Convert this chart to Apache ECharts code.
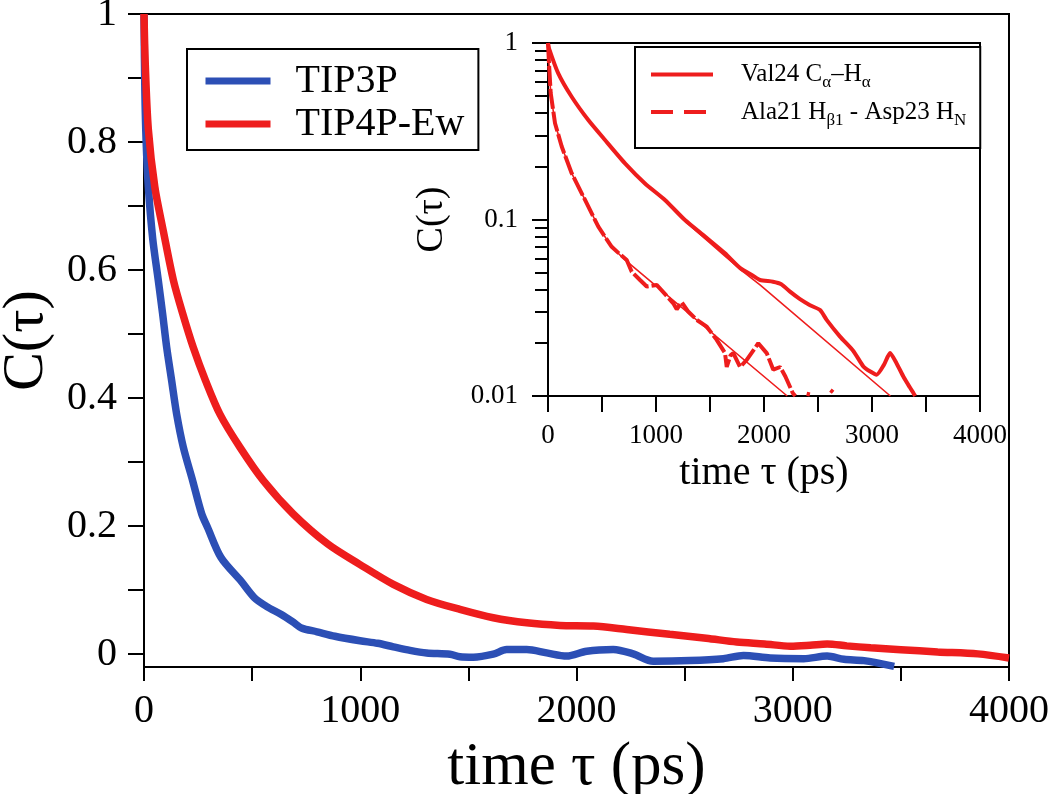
<!DOCTYPE html>
<html><head><meta charset="utf-8">
<script src="https://cdn.jsdelivr.net/npm/echarts@6/dist/echarts.min.js"></script>
<style>html,body{margin:0;padding:0;background:#fff}#c{width:1050px;height:794px}</style>
</head><body><div id="c"></div>
<script>
// ---- data (time in ps, C(tau)) ----
const tip3p = [[0,1.0],[4,0.88],[10,0.80],[20,0.73],[40,0.65],[66,0.584],[86,0.532],[105,0.479],[128,0.427],[151,0.375],[182,0.323],[225,0.271],[267,0.219],[294,0.198],[356,0.151],[449,0.114],[511,0.088],[570,0.074],[635,0.062],[690,0.050],[728,0.041],[800,0.035],[883,0.028],[999,0.021],[1080,0.017],[1153,0.0115],[1230,0.006],[1307,0.002],[1415,0.0],[1461,-0.004],[1523,-0.0047],[1615,0.0],[1677,0.0073],[1770,0.0073],[1862,0.002],[1955,-0.003],[2047,0.0047],[2170,0.0073],[2262,0.0005],[2355,-0.011],[2524,-0.01],[2679,-0.007],[2772,-0.002],[2896,-0.006],[3051,-0.007],[3159,-0.003],[3237,-0.008],[3329,-0.01],[3469,-0.019]];
const tip4pew = [[0,1.0],[6,0.92],[20,0.82],[50,0.73],[90,0.66],[136,0.584],[179,0.532],[228,0.479],[285,0.427],[351,0.375],[444,0.323],[552,0.271],[690,0.219],[850,0.172],[999,0.140],[1153,0.109],[1307,0.0856],[1461,0.070],[1615,0.057],[1770,0.049],[1924,0.045],[2078,0.044],[2232,0.0386],[2431,0.031],[2600,0.025],[2741,0.019],[2870,0.016],[2989,0.0125],[3080,0.014],[3159,0.016],[3250,0.013],[3360,0.01],[3500,0.007],[3670,0.0036],[3856,0.0005],[4000,-0.006]];
const val24 = [[0,1.0],[10,0.93],[95,0.673],[219,0.496],[373,0.366],[528,0.282],[713,0.208],[898,0.160],[1083,0.129],[1268,0.0993],[1454,0.080],[1639,0.0643],[1780,0.053],[1898,0.048],[1963,0.0454],[2083,0.0444],[2160,0.043],[2241,0.039],[2330,0.0355],[2426,0.0327],[2519,0.0307],[2580,0.027],[2704,0.0217],[2827,0.018],[2920,0.0147],[2980,0.0138],[3043,0.0132],[3110,0.015],[3167,0.0175],[3228,0.0153],[3290,0.0129],[3350,0.0112],[3383,0.0104],[3400,0.01]];
const val24Fit = [[0,1.0],[10,0.93],[95,0.673],[219,0.496],[373,0.366],[528,0.282],[713,0.208],[898,0.160],[1083,0.127],[1268,0.098],[1454,0.078],[1639,0.062],[1800,0.051],[1963,0.0426],[3170,0.01]];
const ala21 = [[0,1.0],[10,0.75],[25,0.52],[65,0.351],[127,0.259],[219,0.183],[343,0.129],[466,0.091],[590,0.070],[660,0.064],[729,0.059],[775,0.0506],[852,0.0454],[914,0.0417],[1006,0.0426],[1080,0.038],[1160,0.0335],[1192,0.031],[1238,0.034],[1300,0.030],[1377,0.027],[1470,0.0247],[1562,0.0208],[1639,0.0175],[1655,0.0146],[1690,0.017],[1716,0.0175],[1778,0.0146],[1840,0.016],[1947,0.0199],[2025,0.0175],[2086,0.0141],[2150,0.0146],[2198,0.0129],[2266,0.0104],[2290,0.01],[2340,'-'],[2395,0.0103],[2425,0.0102],[2500,'-'],[2615,0.0108],[2640,0.0105]];
const ala21Fit = [[0,1.0],[10,0.75],[25,0.52],[65,0.351],[127,0.259],[219,0.183],[343,0.129],[466,0.091],[590,0.070],[713,0.059],[2215,0.01]];
const mainXLabels = [0,1000,2000,3000,4000];
const mainYTicks = [0,0.1,0.2,0.3,0.4,0.5,0.6,0.7,0.8,0.9,1];
const mainYLabels = [0,0.2,0.4,0.6,0.8,1];
const insetXLabels = [0,1000,2000,3000,4000];
const insetYMinorTicks = [0.02,0.03,0.04,0.05,0.06,0.07,0.08,0.09,0.2,0.3,0.4,0.5,0.6,0.7,0.8,0.9];

const FF = '"Liberation Serif","DejaVu Serif",serif';
const BLUE = '#2c4fb5', RED = '#ee1d1d';
const axisLine = {show:true, onZero:false, lineStyle:{color:'#000', width:2}};
const tickStyle = {color:'#000', width:2};
const plain = v => String(v);

const chart = echarts.init(document.getElementById('c'));
chart.setOption({
  animation:false,
  backgroundColor:'#fff',
  grid:[
    {left:144, top:14, width:865, height:653, show:true, borderColor:'#000', borderWidth:2, outerBoundsMode:'none', containLabel:false},
    {left:548, top:43, width:432, height:353, show:true, borderColor:'#000', borderWidth:2, backgroundColor:'#fff', outerBoundsMode:'none', containLabel:false}
  ],
  xAxis:[
    {gridIndex:0, type:'value', min:0, max:4000, interval:500, axisLine,
     axisTick:{inside:false, length:14, lineStyle:tickStyle},
     axisLabel:{customValues:mainXLabels, formatter:plain, fontSize:40, fontFamily:FF, color:'#000', margin:24},
     splitLine:{show:false},
     name:'time τ (ps)', nameLocation:'middle', nameGap:70,
     nameTextStyle:{fontSize:61, fontFamily:FF, color:'#000'}},
    {gridIndex:1, type:'value', min:0, max:4000, interval:500, axisLine,
     axisTick:{length:16, lineStyle:tickStyle},
     axisLabel:{customValues:insetXLabels, formatter:plain, fontSize:27, fontFamily:FF, color:'#000', margin:26},
     splitLine:{show:false},
     name:'time τ (ps)', nameLocation:'middle', nameGap:57,
     nameTextStyle:{fontSize:40, fontFamily:FF, color:'#000'}}
  ],
  yAxis:[
    {gridIndex:0, type:'value', min:-0.02, max:1, axisLine,
     axisTick:{customValues:mainYTicks, length:16, lineStyle:tickStyle},
     axisLabel:{customValues:mainYLabels, formatter:plain, fontSize:40, fontFamily:FF, color:'#000', margin:27},
     splitLine:{show:false},
     name:'C(τ)', nameLocation:'middle', nameGap:84,
     nameTextStyle:{fontSize:58, fontFamily:FF, color:'#000'}},
    {gridIndex:1, type:'log', logBase:10, min:0.01, max:1, position:'left', axisLine,
     axisTick:{length:16, lineStyle:tickStyle},
     axisLabel:{formatter:plain, fontSize:27, fontFamily:FF, color:'#000', margin:30},
     splitLine:{show:false}, minorTick:{show:false},
     name:'C(τ)', nameLocation:'middle', nameGap:97,
     nameTextStyle:{fontSize:38, fontFamily:FF, color:'#000'}},
    {gridIndex:1, type:'log', logBase:10, min:0.01, max:1, position:'left',
     axisLine:{show:false, onZero:false},
     axisTick:{customValues:insetYMinorTicks, length:13, lineStyle:tickStyle},
     axisLabel:{show:false}, splitLine:{show:false}}
  ],
  legend:[
    {left:187, top:49, orient:'vertical', data:['TIP3P','TIP4P-Ew'],
     itemWidth:65, itemHeight:10, itemGap:3, padding:[12,14,6,15],
     borderColor:'#000', borderWidth:2, backgroundColor:'#fff',
     itemStyle:{opacity:0}, lineStyle:{width:7},
     textStyle:{fontSize:40, fontFamily:FF, color:'#000', lineHeight:40, padding:[0,0,0,20]}},
    {left:635, top:47, orient:'vertical',
     data:[{name:'Val24'}, {name:'Ala21', lineStyle:{type:[22,11], width:4}}],
     itemWidth:62, itemHeight:10, itemGap:8, padding:[15,14,19,14],
     borderColor:'#000', borderWidth:2, backgroundColor:'#fff',
     itemStyle:{opacity:0}, lineStyle:{width:4},
     formatter:function(n){
       return n === 'Val24' ? '{n|Val24 C}{s|α}{n|–H}{s|α}' : '{n|Ala21 H}{s|β1}{n| - Asp23 H}{s|N}';
     },
     textStyle:{fontSize:25, fontFamily:FF, color:'#000', padding:[0,0,0,23],
       rich:{
         n:{fontSize:25, fontFamily:FF, color:'#000', lineHeight:34, verticalAlign:'middle'},
         s:{fontSize:17, fontFamily:FF, color:'#000', lineHeight:16, verticalAlign:'bottom'}
       }}}
  ],
  series:[
    {name:'TIP3P', type:'line', xAxisIndex:0, yAxisIndex:0, data:tip3p, showSymbol:false, symbol:'none',
     smooth:0.3, lineStyle:{color:BLUE, width:7.5}, itemStyle:{color:BLUE}},
    {name:'TIP4P-Ew', type:'line', xAxisIndex:0, yAxisIndex:0, data:tip4pew, showSymbol:false, symbol:'none',
     smooth:0.3, lineStyle:{color:RED, width:7.5}, itemStyle:{color:RED}},
    {name:'Val24', type:'line', xAxisIndex:1, yAxisIndex:1, data:val24, symbol:'none',
     smooth:0.2, lineStyle:{color:RED, width:4}, itemStyle:{color:RED}, z:3},
    {name:'Val24 fit', type:'line', xAxisIndex:1, yAxisIndex:1, data:val24Fit, symbol:'none',
     smooth:false, lineStyle:{color:RED, width:1.6}, itemStyle:{color:RED}, z:4},
    {name:'Ala21', type:'line', xAxisIndex:1, yAxisIndex:1, data:ala21, symbol:'none',
     smooth:false, connectNulls:false, lineStyle:{color:RED, width:4, type:[20,3]}, itemStyle:{color:RED}, z:3},
    {name:'Ala21 fit', type:'line', xAxisIndex:1, yAxisIndex:1, data:ala21Fit, symbol:'none',
     smooth:false, lineStyle:{color:RED, width:1.6}, itemStyle:{color:RED}, z:4}
  ]
});
</script></body></html>
